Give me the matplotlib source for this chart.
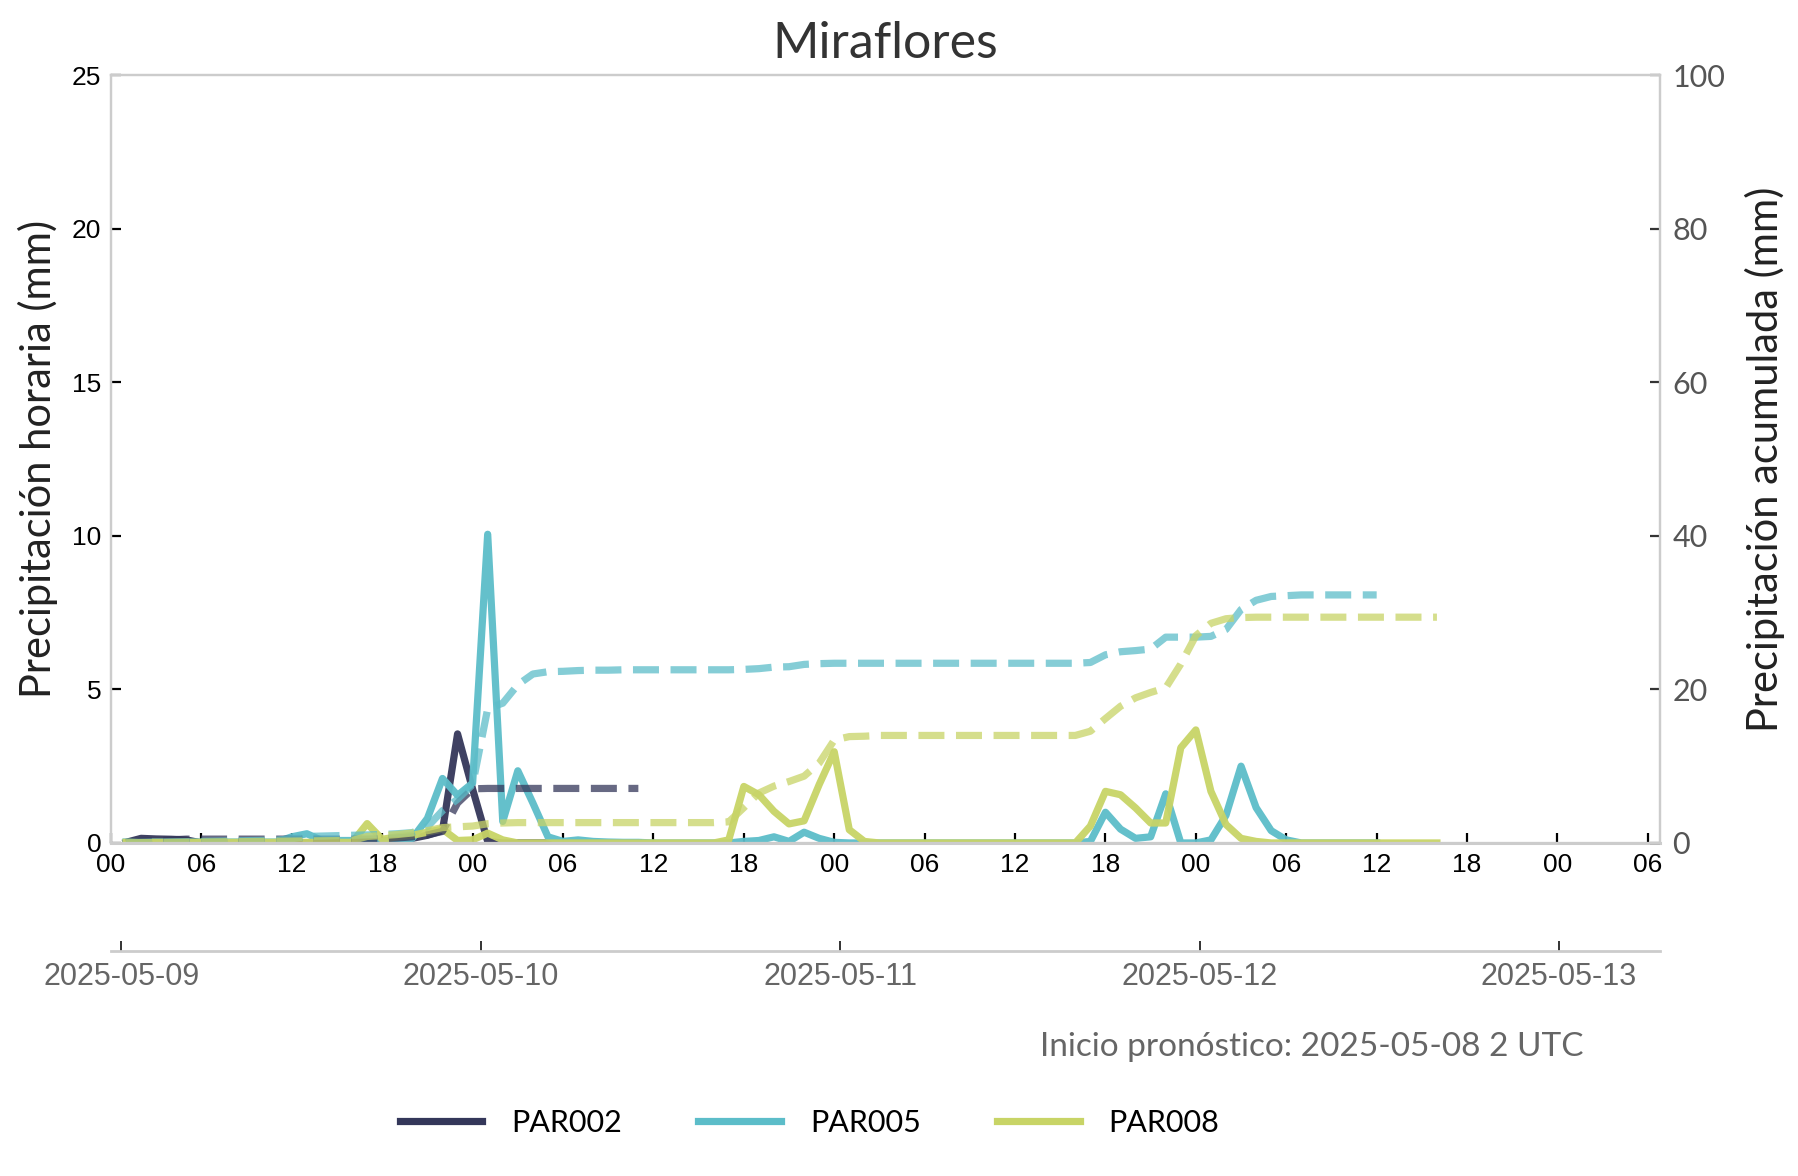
import pandas as pd
import matplotlib
matplotlib.use('Agg')
import matplotlib.pyplot as plt
import matplotlib.dates as mdates
from matplotlib.lines import Line2D

# Estaciones y colores
estaciones = ['PAR002', 'PAR005', 'PAR008']
colores = ['#34375a', '#5cbdc9', '#c8d466']
inicio_serie = '2025-05-09 01:00'  # primera hora con dato

# Precipitacion horaria (mm), un valor por hora desde inicio_serie
par002_hora = [0.02, 0.15, 0.13, 0.12, 0.1, 0.0, 0.0, 0.0, 0.0, 0.0,
               0.0, 0.0, 0.0, 0.0, 0.0, 0.0, 0.02, 0.05, 0.1, 0.15,
               0.25, 0.4, 3.55, 1.75, 0.05, 0.0, 0.0, 0.0, 0.0, 0.0,
               0.0, 0.0, 0.0, 0.0, 0.0]
par005_hora = [0.03, 0.03, 0.03, 0.03, 0.03, 0.03, 0.03, 0.03, 0.03, 0.03,
               0.03, 0.2, 0.3, 0.08, 0.08, 0.08, 0.05, 0.05, 0.1, 0.15,
               0.8, 2.1, 1.55, 1.95, 10.05, 0.7, 2.35, 1.3, 0.2, 0.05,
               0.1, 0.05, 0.03, 0.02, 0.02, 0.0, 0.0, 0.0, 0.0, 0.0,
               0.0, 0.05, 0.08, 0.2, 0.05, 0.35, 0.15, 0.02, 0.0, 0.0,
               0.0, 0.0, 0.0, 0.0, 0.0, 0.0, 0.0, 0.0, 0.0, 0.0,
               0.0, 0.0, 0.0, 0.0, 0.05, 1.0, 0.45, 0.15, 0.2, 1.6,
               0.0, 0.0, 0.1, 0.9, 2.5, 1.15, 0.4, 0.1, 0.0, 0.0,
               0.0, 0.0, 0.0, 0.0]
par008_hora = [0.02, 0.02, 0.02, 0.02, 0.02, 0.02, 0.02, 0.02, 0.02, 0.02,
               0.02, 0.02, 0.02, 0.02, 0.02, 0.02, 0.63, 0.12, 0.2, 0.25,
               0.35, 0.45, 0.08, 0.1, 0.32, 0.1, 0.0, 0.0, 0.0, 0.0,
               0.0, 0.0, 0.0, 0.0, 0.0, 0.0, 0.0, 0.0, 0.0, 0.0,
               0.1, 1.84, 1.57, 1.03, 0.62, 0.72, 1.9, 2.97, 0.43, 0.05,
               0.0, 0.0, 0.0, 0.0, 0.0, 0.0, 0.0, 0.0, 0.0, 0.0,
               0.0, 0.0, 0.0, 0.0, 0.55, 1.68, 1.57, 1.14, 0.65, 0.65,
               3.1, 3.68, 1.68, 0.6, 0.15, 0.05, 0.0, 0.0, 0.0, 0.0,
               0.0, 0.0, 0.0, 0.0, 0.0, 0.0, 0.0, 0.0]

# Precipitacion acumulada (mm)
par002_acum = [0.05, 0.2, 0.3, 0.4, 0.5, 0.5, 0.5, 0.5, 0.5, 0.5,
               0.5, 0.5, 0.5, 0.5, 0.5, 0.5, 0.5, 0.55, 0.65, 0.8,
               1.05, 1.5, 5.2, 7.05, 7.1, 7.1, 7.1, 7.1, 7.1, 7.1,
               7.1, 7.1, 7.1, 7.1, 7.1]
par005_acum = [0.03, 0.06, 0.1, 0.13, 0.16, 0.2, 0.23, 0.26, 0.3, 0.33,
               0.36, 0.55, 0.85, 0.9, 0.95, 1.0, 1.05, 1.1, 1.2, 1.35,
               2.1, 4.2, 5.7, 7.6, 17.5, 18.2, 20.6, 22.0, 22.3, 22.35,
               22.45, 22.5, 22.5, 22.55, 22.55, 22.55, 22.55, 22.55, 22.55, 22.55,
               22.55, 22.6, 22.7, 22.9, 22.95, 23.25, 23.35, 23.4, 23.4, 23.4,
               23.4, 23.4, 23.4, 23.4, 23.4, 23.4, 23.4, 23.4, 23.4, 23.4,
               23.4, 23.4, 23.4, 23.4, 23.5, 24.5, 24.9, 25.05, 25.25, 26.8,
               26.8, 26.8, 26.9, 27.8, 30.4, 31.6, 32.1, 32.2, 32.3, 32.3,
               32.3, 32.3, 32.3, 32.3]
par008_acum = [0.02, 0.04, 0.06, 0.08, 0.1, 0.12, 0.14, 0.16, 0.18, 0.2,
               0.22, 0.24, 0.26, 0.28, 0.3, 0.32, 0.85, 0.95, 1.1, 1.3,
               1.6, 2.0, 2.1, 2.2, 2.5, 2.6, 2.65, 2.65, 2.65, 2.65,
               2.65, 2.65, 2.65, 2.65, 2.65, 2.65, 2.65, 2.65, 2.65, 2.65,
               2.75, 4.6, 6.5, 7.4, 8.0, 8.7, 10.4, 13.4, 13.85, 13.9,
               14.0, 14.0, 14.0, 14.0, 14.0, 14.0, 14.0, 14.0, 14.0, 14.0,
               14.0, 14.0, 14.0, 14.0, 14.55, 16.2, 17.8, 18.9, 19.6, 20.2,
               23.3, 27.0, 28.6, 29.2, 29.35, 29.4, 29.4, 29.4, 29.4, 29.4,
               29.4, 29.4, 29.4, 29.4, 29.4, 29.4, 29.4, 29.4]

horarias = [par002_hora, par005_hora, par008_hora]
acumuladas = [par002_acum, par005_acum, par008_acum]

fuente_titulo = ['Lato', 'DejaVu Sans']
fuente_ticks = ['Liberation Sans', 'DejaVu Sans']
grosor = 2.6

fig = plt.figure(figsize=(8.995, 5.88), dpi=200)
ax = fig.add_axes([0.0617, 0.2832, 0.861, 0.653])
ax_r = ax.twinx()
ax_d = ax.twiny()

# Series: horaria continua, acumulada discontinua
for nombre, color, hora, acum in zip(estaciones, colores, horarias, acumuladas):
    t_h = pd.date_range(inicio_serie, periods=len(hora), freq='h')
    t_a = pd.date_range(inicio_serie, periods=len(acum), freq='h')
    ax.plot(t_h, hora, color=color, lw=grosor, alpha=0.95, solid_joinstyle='round')
    ax_r.plot(t_a, acum, color=color, lw=grosor, alpha=0.75, dashes=(3.6, 1.6))

x0 = pd.Timestamp('2025-05-09 00:00')
ax.set_xlim(x0, x0 + pd.Timedelta(hours=102.8))
ax.set_ylim(0, 25)
ax_r.set_ylim(0, 100)
ax.set_yticks([0, 5, 10, 15, 20, 25])
ax_r.set_yticks([0, 20, 40, 60, 80, 100])

ax.xaxis.set_major_locator(mdates.HourLocator(byhour=[0, 6, 12, 18]))
ax.xaxis.set_major_formatter(mdates.DateFormatter('%H'))

for a in (ax, ax_r):
    for s in a.spines.values():
        s.set_color('#cccccc')
        s.set_linewidth(0.8)
ax.spines['bottom'].set_linewidth(1.1)

ax.tick_params(axis='both', direction='in', length=3.5, width=0.8, color='black',
               labelsize=9.5, labelcolor='black', pad=3.5)
ax.tick_params(axis='y', pad=3.5)
ax_r.tick_params(axis='y', direction='in', length=3.5, width=0.8, color='#333333',
                 labelsize=11, labelcolor='#555555', pad=4.5)
for lab in ax.get_xticklabels() + ax.get_yticklabels():
    lab.set_family(fuente_ticks)
for lab in ax_r.get_yticklabels():
    lab.set_family(fuente_titulo)

ax.set_title('Miraflores', fontsize=18, color='#333333', family=fuente_titulo, pad=6)
ax.set_ylabel('Precipitación horaria (mm)', fontsize=15, color='#222222',
              family=fuente_titulo, labelpad=5)
ax_r.set_ylabel('Precipitación acumulada (mm)', fontsize=15, color='#222222',
                family=fuente_titulo, labelpad=7)

# Eje de fechas por debajo
d0 = mdates.date2num(x0)
ax_d.set_xlim(d0 - 0.0287, d0 + 4.281)
ax_d.xaxis.set_ticks_position('bottom')
ax_d.xaxis.set_label_position('bottom')
ax_d.spines['bottom'].set_position(('outward', 39))
for k in ('top', 'left', 'right'):
    ax_d.spines[k].set_visible(False)
ax_d.spines['bottom'].set_color('#cccccc')
ax_d.spines['bottom'].set_linewidth(1.0)
ax_d.xaxis.set_major_locator(mdates.DayLocator())
ax_d.xaxis.set_major_formatter(mdates.DateFormatter('%Y-%m-%d'))
ax_d.tick_params(axis='x', direction='in', length=3.5, width=0.7, color='#333333',
                 labelsize=11, labelcolor='#666666', pad=4)
for lab in ax_d.get_xticklabels():
    lab.set_family(fuente_ticks)

fig.text(0.88, 0.1097, 'Inicio pronóstico: 2025-05-08 2 UTC', ha='right', va='center',
         fontsize=12, color='#666666', family=fuente_titulo)

handles = [Line2D([], [], color=c, lw=grosor) for c in colores]
fig.legend(handles, estaciones, loc='center', bbox_to_anchor=(0.45, 0.045), ncol=3,
           frameon=False, handlelength=2.7, handletextpad=0.95, columnspacing=2.5,
           prop={'family': fuente_titulo, 'size': 11})

fig.savefig('out.png', dpi=200, facecolor='white')
